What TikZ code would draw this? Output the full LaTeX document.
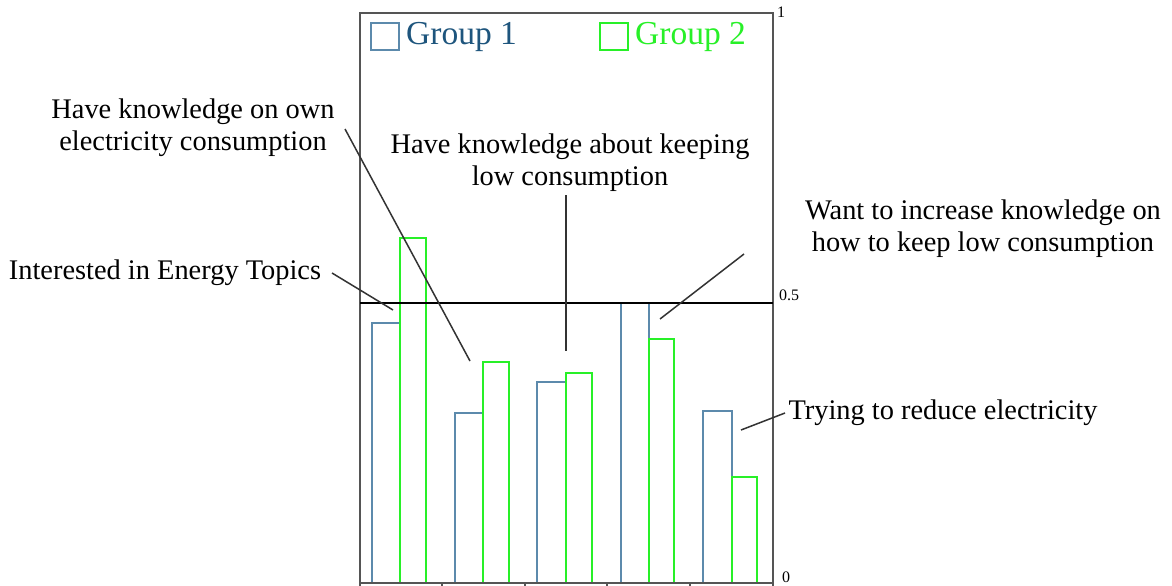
\documentclass[tikz,border=0pt]{standalone}
\usepackage{fontspec}
\setmainfont{Liberation Serif}
\definecolor{gblue}{RGB}{92,138,172}
\definecolor{gbluetext}{RGB}{30,85,125}
\definecolor{ggreen}{RGB}{40,240,40}
\definecolor{framegray}{RGB}{85,85,85}
\begin{document}
\begin{tikzpicture}[x=1pt,y=-1pt,
  bara/.style={draw=gblue,line width=1.6pt},
  barb/.style={draw=ggreen,line width=1.6pt},
  axisline/.style={draw=framegray,line width=1.8pt},
  callout/.style={draw=black!80,line width=1.5pt},
  lbl/.style={font=\fontsize{28.4}{32}\selectfont,align=center,inner sep=0pt},
  ticklbl/.style={font=\fontsize{16}{18}\selectfont,inner sep=0pt},
  legtext/.style={font=\fontsize{33.5}{38}\selectfont,inner sep=0pt,anchor=base west}]
\useasboundingbox (0,0) rectangle (1172,586);
\fill[white] (0,0) rectangle (1172,586);

% bars
\draw[bara] (372,583) rectangle (400,323);
\draw[barb] (400,583) rectangle (426,238);
\draw[bara] (455,583) rectangle (483,413);
\draw[barb] (483,583) rectangle (509,362);
\draw[bara] (537,583) rectangle (566,382);
\draw[barb] (566,583) rectangle (592,373);
\draw[bara] (621,583) rectangle (649,303);
\draw[barb] (649,583) rectangle (674,339);
\draw[bara] (703,583) rectangle (732,411);
\draw[barb] (732,583) rectangle (757,477);

% frame and axis
\draw[axisline] (360,586) -- (360,13) -- (773,13) -- (773,583) -- (360,583);
\foreach \x in {442,525,607,690,773} \draw[axisline] (\x,583) -- (\x,586);
\draw[black,line width=1.5pt] (360,303) -- (773,303);

% tick labels
\node[ticklbl] (y1) at (781,12) {1};
\node[ticklbl] (y05) at (789,295) {0.5};
\node[ticklbl] (y0) at (786,577) {0};

% legend
\draw[draw=gblue,line width=1.5pt] (371,23) rectangle (399,50);
\node[legtext,text=gbluetext] (g1) at (406,45) {Group 1};
\draw[draw=ggreen,line width=1.5pt] (600,23) rectangle (628,50);
\node[legtext,text=ggreen] (g2) at (635,45) {Group 2};

% labels
\node[lbl,anchor=base] (t1) at (165,279) {Interested in Energy Topics};
\node[lbl] (t2) at (193,128) {Have knowledge on own\\electricity consumption};
\node[lbl] (t3) at (570,163) {Have knowledge about keeping\\low consumption};
\node[lbl] (t4) at (983,229) {Want to increase knowledge on\\how to keep low consumption};
\node[lbl,anchor=base] (t5) at (943,419) {Trying to reduce electricity};

% callout coordinates
\coordinate (a1) at (332,273); \coordinate (b1) at (393,310);
\coordinate (a2) at (345,129); \coordinate (b2) at (470,361);
\coordinate (a3) at (566,195); \coordinate (b3) at (566,351);
\coordinate (a4) at (744,254); \coordinate (b4) at (660,319);
\coordinate (a5) at (785,413); \coordinate (b5) at (741,430);
\draw[callout] (a1) -- (b1);
\draw[callout] (a2) -- (b2);
\draw[callout] (a3) -- (b3);
\draw[callout] (a4) -- (b4);
\draw[callout] (a5) -- (b5);
\end{tikzpicture}
\end{document}
